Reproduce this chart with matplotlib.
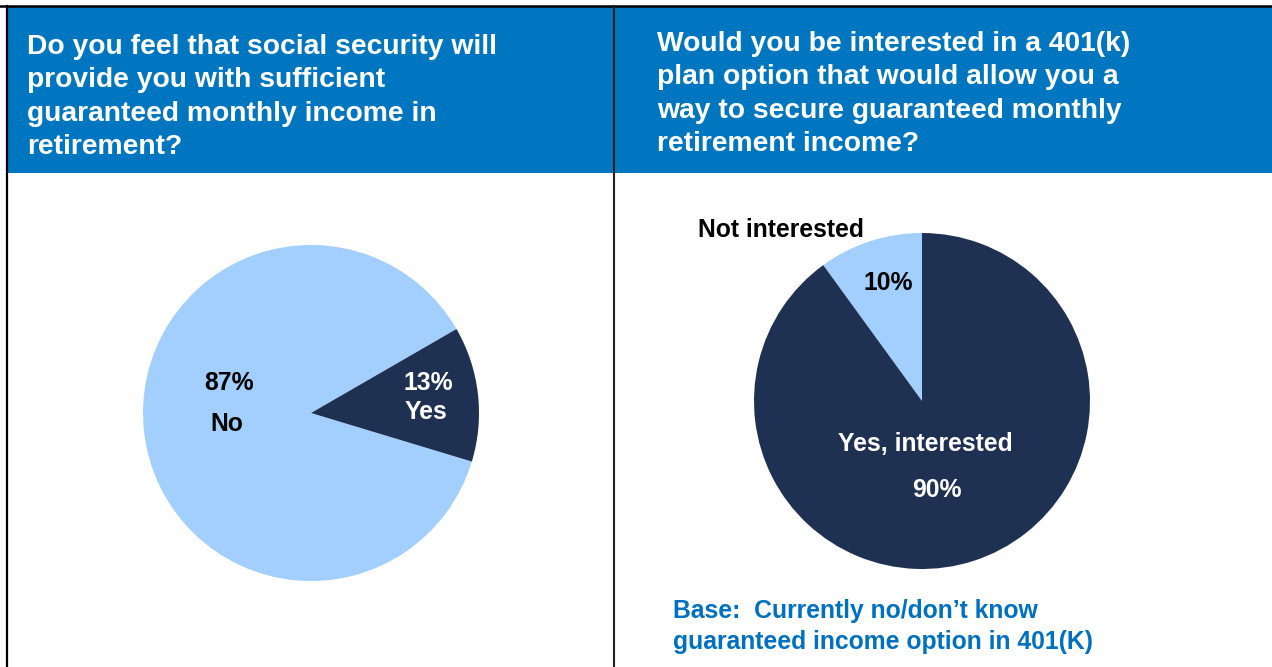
import matplotlib
matplotlib.use('Agg')
from matplotlib import pyplot as plt
from matplotlib.patches import Rectangle

plt.rcParams['font.family'] = ['Liberation Sans', 'DejaVu Sans']
plt.rcParams['font.weight'] = 'bold'

W, H = 1272, 667

# Survey answers
q1_title = 'Do you feel that social security will\nprovide you with sufficient\nguaranteed monthly income in\nretirement?'
q1_labels = ['No', 'Yes']
q1_values = [87, 13]

q2_title = 'Would you be interested in a 401(k)\nplan option that would allow you a\nway to secure guaranteed monthly\nretirement income?'
q2_labels = ['Not interested', 'Yes, interested']
q2_values = [10, 90]
q2_base = 'Base:  Currently no/don\u2019t know\nguaranteed income option in 401(K)'

HEADER_BLUE = '#0176C0'
LIGHT = '#A3CFFF'
DARK = '#1F3153'
LABEL_SIZE = 17.8

fig = plt.figure(figsize=(W / 100, H / 100), dpi=100)

# Frame, header bands and divider in pixel coordinates
bg = fig.add_axes([0, 0, 1, 1])
bg.set_xlim(0, W)
bg.set_ylim(H, 0)
bg.axis('off')
bg.add_patch(Rectangle((7, 6), W - 7, 167, color=HEADER_BLUE, lw=0))
bg.plot([0, W], [6, 6], color='black', lw=1.8)
bg.plot([7, 7], [6, H], color='black', lw=1.6)
bg.plot([614, 614], [6, H], color='#222222', lw=1.5)

bg.text(27, 34, q1_title, color='white', fontsize=20.3, fontweight='bold',
        va='top', ha='left', linespacing=1.37)
bg.text(657, 31, q2_title, color='white', fontsize=20.3, fontweight='bold',
        va='top', ha='left', linespacing=1.37)
bg.text(673, 599, q2_base, color='#0070C0', fontsize=LABEL_SIZE, fontweight='bold',
        va='top', ha='left', linespacing=1.38)


def pie_axes(cx, cy, r):
    return fig.add_axes([(cx - r) / W, (H - cy - r) / H, 2 * r / W, 2 * r / H])


# Left pie: social security
ax1 = pie_axes(311, 413, 168)
ax1.pie(q1_values, colors=[LIGHT, DARK], startangle=30, counterclock=True,
        radius=1, wedgeprops=dict(linewidth=0))
ax1.set_xlim(-1, 1)
ax1.set_ylim(-1, 1)
ax1.text(-0.49, 0.18, f'{q1_values[0]}%', ha='center', va='center', fontsize=LABEL_SIZE, color='black')
ax1.text(-0.50, -0.065, q1_labels[0], ha='center', va='center', fontsize=LABEL_SIZE, color='black')
ax1.text(0.70, 0.18, f'{q1_values[1]}%', ha='center', va='center', fontsize=LABEL_SIZE, color='white')
ax1.text(0.685, 0.006, q1_labels[1], ha='center', va='center', fontsize=LABEL_SIZE, color='white')

# Right pie: 401(k) interest
ax2 = pie_axes(922, 401, 168)
ax2.pie(q2_values, colors=[LIGHT, DARK], startangle=90, counterclock=True,
        radius=1, wedgeprops=dict(linewidth=0))
ax2.set_xlim(-1, 1)
ax2.set_ylim(-1, 1)
ax2.text(-0.84, 1.015, q2_labels[0], ha='center', va='center', fontsize=LABEL_SIZE, color='black')
ax2.text(-0.20, 0.70, f'{q2_values[0]}%', ha='center', va='center', fontsize=LABEL_SIZE, color='black')
ax2.text(0.02, -0.256, q2_labels[1], ha='center', va='center', fontsize=LABEL_SIZE, color='white')
ax2.text(0.09, -0.53, f'{q2_values[1]}%', ha='center', va='center', fontsize=LABEL_SIZE, color='white')

plt.savefig('out.png', dpi=100)
